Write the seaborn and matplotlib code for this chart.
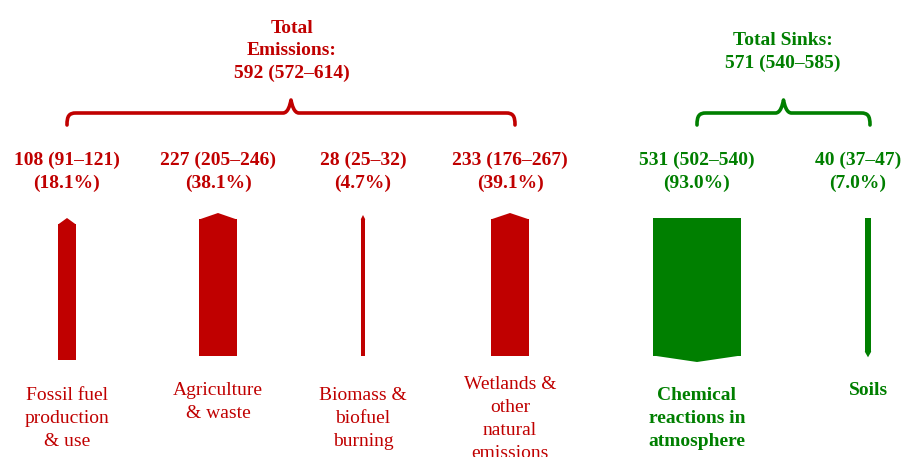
import numpy as np
import pandas as pd
import matplotlib.pyplot as plt
import seaborn as sns
from matplotlib.patches import Polygon
from matplotlib.path import Path
from matplotlib.patches import PathPatch

# data (Tg CH4 / yr)
categories = ["Fossil fuel\nproduction\n& use", "Agriculture\n& waste",
              "Biomass &\nbiofuel\nburning", "Wetlands &\nother\nnatural\nemissions",
              "Chemical\nreactions in\natmosphere", "Soils"]
kind = ["source", "source", "source", "source", "sink", "sink"]
values = [108, 227, 28, 233, 531, 40]
low = [91, 205, 25, 176, 502, 37]
high = [121, 246, 32, 267, 540, 47]
shares = [18.1, 38.1, 4.7, 39.1, 93.0, 7.0]
total_emis = [592, 572, 614]
total_sink = [571, 540, 585]

RED = "#C00000"
GREEN = "#007F00"

# layout in pixel units
centers = [67, 218, 363, 510, 697, 868]
text_x = [67, 218, 363, 510, 697, 858]
tops = [224, 219, 219, 219, 218, 218]
bottoms = [360, 356, 356, 356, 356, 352]
px_per_unit = 0.166
tip = 6

df = pd.DataFrame({"cat": categories, "kind": kind, "value": values,
                   "x": centers, "length": np.array(bottoms) - np.array(tops)})

sns.set_style("white")
plt.rcParams["font.family"] = ["Liberation Serif", "DejaVu Serif"]

fig = plt.figure(figsize=(9.1, 4.57), dpi=100)
ax = fig.add_axes([0, 0, 1, 1])

sns.barplot(data=df, x="x", y="length", hue="kind", native_scale=True,
            palette={"source": RED, "sink": GREEN}, legend=False, ax=ax,
            linewidth=0, dodge=False, saturation=1)

# reshape bars: width from value, vertical extent from layout
bars = sorted(ax.patches, key=lambda p: p.get_x() + p.get_width() / 2)
for p, v, c, t, b in zip(bars, values, centers, tops, bottoms):
    w = v * px_per_unit
    p.set_x(c - w / 2)
    p.set_width(w)
    p.set_y(t)
    p.set_height(b - t)

# arrow heads
for v, c, t, b, k in zip(values, centers, tops, bottoms, kind):
    w = v * px_per_unit
    h = min(tip, max(4, w * 0.8))
    if k == "source":
        pts = [(c - w / 2, t + 0.5), (c, t - h), (c + w / 2, t + 0.5)]
        col = RED
    else:
        pts = [(c - w / 2, b - 0.5), (c, b + h), (c + w / 2, b - 0.5)]
        col = GREEN
    ax.add_patch(Polygon(pts, closed=True, fc=col, ec="none"))


def brace(x0, x1, ybase, ytop, yend, color):
    xm = (x0 + x1) / 2
    r = 9
    verts = [(x0, yend), (x0, ytop + 3), (x0 + 2, ytop), (x0 + r, ytop),
             (xm - 8, ytop), (xm - 3, ytop), (xm - 1, ybase + 5), (xm, ybase),
             (xm + 1, ybase + 5), (xm + 3, ytop), (xm + 8, ytop),
             (x1 - r, ytop), (x1 - 2, ytop), (x1, ytop + 3), (x1, yend)]
    codes = [Path.MOVETO, Path.CURVE4, Path.CURVE4, Path.CURVE4,
             Path.LINETO, Path.CURVE4, Path.CURVE4, Path.CURVE4,
             Path.CURVE4, Path.CURVE4, Path.CURVE4,
             Path.LINETO, Path.CURVE4, Path.CURVE4, Path.CURVE4]
    ax.add_patch(PathPatch(Path(verts, codes), fc="none", ec=color, lw=2.6,
                           capstyle="round", joinstyle="round"))


brace(centers[0], centers[3] + 5, 100, 113, 125, RED)
brace(centers[4], centers[5] + 2, 100, 113, 125, GREEN)

fs = 14
ls = 1.4
ax.text(292, 51, "Total\nEmissions:\n%d (%d\u2013%d)" % tuple(total_emis),
        ha="center", va="center", color=RED, fontsize=fs, linespacing=ls,
        fontweight="bold")
ax.text(783, 52, "Total Sinks:\n%d (%d\u2013%d)" % tuple(total_sink),
        ha="center", va="center", color=GREEN, fontsize=fs, linespacing=ls,
        fontweight="bold")

label_y = [393, 388, 393, 382, 393, 388]
for i, c in enumerate(text_x):
    col = RED if kind[i] == "source" else GREEN
    fw = "normal" if kind[i] == "source" else "bold"
    ax.text(c, 172, "%d (%d\u2013%d)\n(%.1f%%)" % (values[i], low[i], high[i], shares[i]),
            ha="center", va="center", color=col, fontsize=fs, linespacing=ls,
            fontweight="bold")
    ax.text(centers[i], label_y[i] - 6, categories[i], ha="center", va="top",
            color=col, fontsize=fs, linespacing=1.45, fontweight=fw)

ax.set_xlim(0, 910)
ax.set_ylim(457, 0)
ax.axis("off")

fig.savefig("out.png", dpi=100)
